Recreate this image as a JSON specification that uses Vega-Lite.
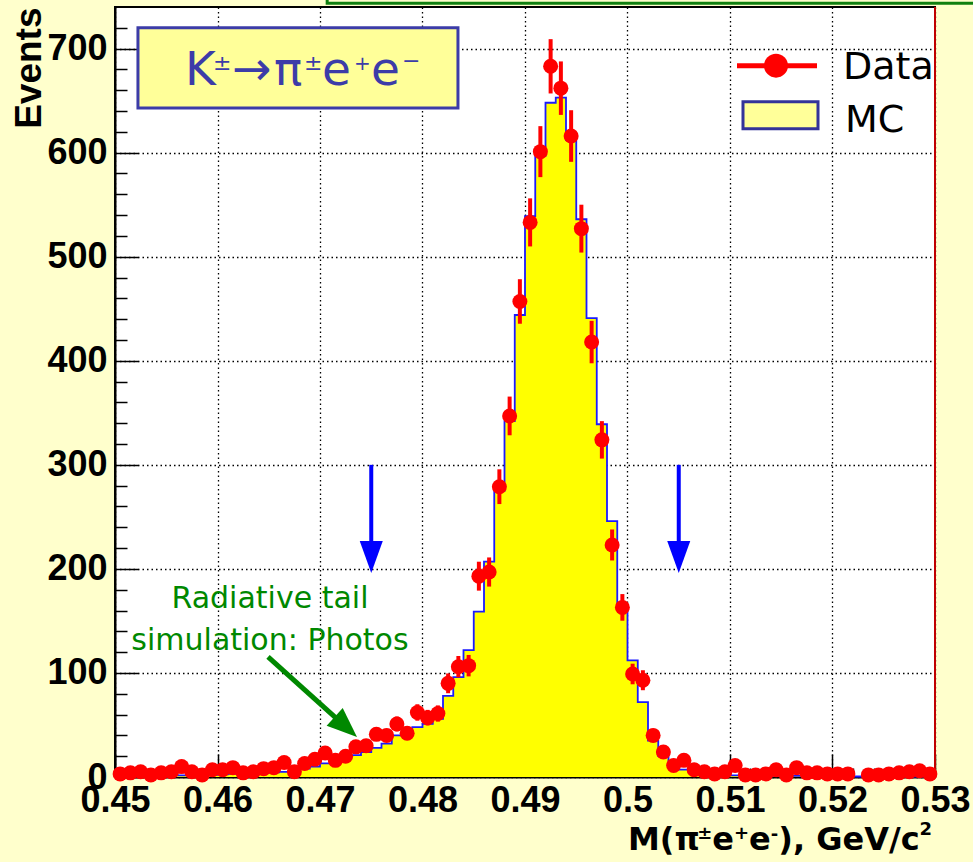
{
  "$schema": "https://vega.github.io/schema/vega-lite/v6.json",
  "width": 820,
  "height": 770,
  "autosize": {"type": "none"},
  "padding": {"left": 115, "top": 7, "right": 38, "bottom": 85},
  "background": "#ffffcc",
  "config": {
    "view": {"fill": "white", "stroke": "black", "strokeWidth": 2},
    "axis": {
      "domainColor": "black", "domainWidth": 2,
      "tickColor": "black", "tickWidth": 1.5,
      "labelFont": "Liberation Sans", "labelFontWeight": "bold", "labelFontSize": 36, "labelColor": "black",
      "gridColor": "black", "gridDash": [1.5, 3], "gridWidth": 1.3,
      "labelOverlap": false, "labelFlush": false
    }
  },
  "datasets": {
    "pts": [
      {"m":0.4505,"n":3,"err":1.7},{"m":0.4515,"n":4,"err":2},{"m":0.4525,"n":5,"err":2.2},{"m":0.4535,"n":2,"err":1.4},{"m":0.4545,"n":4,"err":2},{"m":0.4555,"n":5,"err":2.2},{"m":0.4565,"n":10,"err":3.2},{"m":0.4575,"n":5,"err":2.2},{"m":0.4585,"n":2,"err":1.4},{"m":0.4595,"n":7,"err":2.6},{"m":0.4605,"n":7,"err":2.6},{"m":0.4615,"n":9,"err":3},{"m":0.4625,"n":4,"err":2},{"m":0.4635,"n":5,"err":2.2},{"m":0.4645,"n":8,"err":2.8},{"m":0.4655,"n":9,"err":3},{"m":0.4665,"n":14,"err":3.7},{"m":0.4675,"n":5,"err":2.2},{"m":0.4685,"n":13,"err":3.6},{"m":0.4695,"n":17,"err":4.1},{"m":0.4705,"n":23,"err":4.8},{"m":0.4715,"n":16,"err":4},{"m":0.4725,"n":20,"err":4.5},{"m":0.4735,"n":29,"err":5.4},{"m":0.4745,"n":30,"err":5.5},{"m":0.4755,"n":41,"err":6.4},{"m":0.4765,"n":40,"err":6.3},{"m":0.4775,"n":51,"err":7.1},{"m":0.4785,"n":42,"err":6.5},{"m":0.4795,"n":62,"err":7.9},{"m":0.4805,"n":57,"err":7.5},{"m":0.4815,"n":61,"err":7.8},{"m":0.4825,"n":90,"err":9.5},{"m":0.4835,"n":106,"err":10.3},{"m":0.4845,"n":107,"err":10.3},{"m":0.4855,"n":193,"err":13.9},{"m":0.4865,"n":197,"err":14},{"m":0.4875,"n":279,"err":16.7},{"m":0.4885,"n":347,"err":18.6},{"m":0.4895,"n":457,"err":21.4},{"m":0.4905,"n":533,"err":23.1},{"m":0.4915,"n":601,"err":24.5},{"m":0.4925,"n":683,"err":26.1},{"m":0.4935,"n":662,"err":25.7},{"m":0.4945,"n":616,"err":24.8},{"m":0.4955,"n":527,"err":23},{"m":0.4965,"n":418,"err":20.4},{"m":0.4975,"n":324,"err":18},{"m":0.4985,"n":223,"err":14.9},{"m":0.4995,"n":163,"err":12.8},{"m":0.5005,"n":99,"err":9.9},{"m":0.5015,"n":93,"err":9.6},{"m":0.5025,"n":40,"err":6.3},{"m":0.5035,"n":24,"err":4.9},{"m":0.5045,"n":11,"err":3.3},{"m":0.5055,"n":16,"err":4},{"m":0.5065,"n":7,"err":2.6},{"m":0.5075,"n":5,"err":2.2},{"m":0.5085,"n":3,"err":1.7},{"m":0.5095,"n":5,"err":2.2},{"m":0.5105,"n":11,"err":3.3},{"m":0.5115,"n":2,"err":1.4},{"m":0.5125,"n":2,"err":1.4},{"m":0.5135,"n":3,"err":1.7},{"m":0.5145,"n":7,"err":2.6},{"m":0.5155,"n":2,"err":1.4},{"m":0.5165,"n":9,"err":3},{"m":0.5175,"n":4,"err":2},{"m":0.5185,"n":4,"err":2},{"m":0.5195,"n":3,"err":1.7},{"m":0.5205,"n":3,"err":1.7},{"m":0.5215,"n":3,"err":1.7},{"m":0.5235,"n":2,"err":1.4},{"m":0.5245,"n":2,"err":1.4},{"m":0.5255,"n":3,"err":1.7},{"m":0.5265,"n":4,"err":2},{"m":0.5275,"n":5,"err":2.2},{"m":0.5285,"n":6,"err":2.4},{"m":0.5295,"n":3,"err":1.7}
    ],
    "mc": [
      {"m":0.450,"mc":1},{"m":0.451,"mc":1},{"m":0.452,"mc":1},{"m":0.453,"mc":1},{"m":0.454,"mc":1},{"m":0.455,"mc":1.5},{"m":0.456,"mc":1.5},{"m":0.457,"mc":2},{"m":0.458,"mc":2},{"m":0.459,"mc":2},{"m":0.460,"mc":2.5},{"m":0.461,"mc":3},{"m":0.462,"mc":3},{"m":0.463,"mc":3.5},{"m":0.464,"mc":4},{"m":0.465,"mc":4.5},{"m":0.466,"mc":5},{"m":0.467,"mc":6},{"m":0.468,"mc":8},{"m":0.469,"mc":10},{"m":0.470,"mc":13},{"m":0.471,"mc":16},{"m":0.472,"mc":18},{"m":0.473,"mc":21},{"m":0.474,"mc":24},{"m":0.475,"mc":28},{"m":0.476,"mc":32},{"m":0.477,"mc":40},{"m":0.478,"mc":46},{"m":0.479,"mc":48},{"m":0.480,"mc":51},{"m":0.481,"mc":56},{"m":0.482,"mc":78},{"m":0.483,"mc":96},{"m":0.484,"mc":122},{"m":0.485,"mc":159},{"m":0.486,"mc":207},{"m":0.487,"mc":275},{"m":0.488,"mc":342},{"m":0.489,"mc":444},{"m":0.490,"mc":539},{"m":0.491,"mc":597},{"m":0.492,"mc":648},{"m":0.493,"mc":653},{"m":0.494,"mc":612},{"m":0.495,"mc":536},{"m":0.496,"mc":441},{"m":0.497,"mc":339},{"m":0.498,"mc":246},{"m":0.499,"mc":165},{"m":0.500,"mc":112},{"m":0.501,"mc":72},{"m":0.502,"mc":35},{"m":0.503,"mc":20},{"m":0.504,"mc":12},{"m":0.505,"mc":7},{"m":0.506,"mc":4},{"m":0.507,"mc":3},{"m":0.508,"mc":2},{"m":0.509,"mc":2},{"m":0.510,"mc":1.5},{"m":0.511,"mc":1.5},{"m":0.512,"mc":1},{"m":0.513,"mc":1},{"m":0.514,"mc":1},{"m":0.515,"mc":1},{"m":0.516,"mc":1},{"m":0.517,"mc":1},{"m":0.518,"mc":1},{"m":0.519,"mc":1},{"m":0.520,"mc":1},{"m":0.521,"mc":1},{"m":0.522,"mc":0.5},{"m":0.523,"mc":0.5},{"m":0.524,"mc":0.5},{"m":0.525,"mc":0.5},{"m":0.526,"mc":0.5},{"m":0.527,"mc":0.5},{"m":0.528,"mc":0.5},{"m":0.529,"mc":0.5},{"m":0.530,"mc":0.5}
    ]
  },
  "resolve": {"axis": {"x": "independent", "y": "independent"}},
  "layer": [
    {
      "layer": [
        {
          "data": {"name": "mc"},
          "mark": {"type": "area", "interpolate": "step-after", "color": "#ffff00"},
          "encoding": {
            "x": {"field": "m", "type": "quantitative", "title": null,
              "scale": {"domain": [0.45, 0.53], "nice": false, "zero": false},
              "axis": {
                "orient": "bottom",
                "values": [0.45,0.46,0.47,0.48,0.49,0.5,0.51,0.52,0.53],
                "format": "~g",
                "tickSize": -23,
                "grid": true,
                "labelPadding": 29,
                "labelOverlap": false
              }
            },
            "y": {"field": "mc", "type": "quantitative", "title": "Events",
              "scale": {"domain": [0, 740], "nice": false},
              "axis": {
                "orient": "left",
                "values": [0,100,200,300,400,500,600,700],
                "tickSize": -23,
                "grid": true,
                "labelPadding": 31,
                "labelOverlap": false,
                "titleFont": "Liberation Sans", "titleFontWeight": "bold", "titleFontSize": 37, "titleColor": "black",
                "titleAnchor": "end", "titlePadding": -2
              }
            }
          }
        },
        {
          "data": {"name": "mc"},
          "mark": {"type": "line", "interpolate": "step-after", "color": "#1a1aff", "strokeWidth": 1.8},
          "encoding": {
            "x": {"field": "m", "type": "quantitative", "title": null},
            "y": {"field": "mc", "type": "quantitative", "title": "Events"}
          }
        },
        {
          "data": {"name": "pts"},
          "mark": {"type": "errorbar", "color": "#ff0000", "thickness": 4},
          "encoding": {
            "x": {"field": "m", "type": "quantitative", "title": null},
            "y": {"field": "n", "type": "quantitative", "title": "Events"},
            "yError": {"field": "err"}
          }
        },
        {
          "data": {"name": "pts"},
          "mark": {"type": "point", "shape": "circle", "filled": true, "color": "#ff0000", "opacity": 1, "size": 225},
          "encoding": {
            "x": {"field": "m", "type": "quantitative", "title": null},
            "y": {"field": "n", "type": "quantitative", "title": "Events"}
          }
        },
        {
          "data": {"values": [{}]},
          "mark": {"type": "rule", "color": "#ff0000", "strokeWidth": 1.5},
          "encoding": {"x": {"datum": 0.53, "type": "quantitative"}, "y": {"datum": 0, "type": "quantitative"}, "y2": {"datum": 740}}
        },
        {
          "data": {"values": [{}]},
          "mark": {"type": "rect", "fill": "#ffffcc", "stroke": "#108010", "strokeWidth": 3, "clip": false},
          "encoding": {"x": {"datum": 0.4707, "type": "quantitative"}, "x2": {"datum": 0.5345}, "y": {"datum": 743.5, "type": "quantitative"}, "y2": {"datum": 800}}
        },
        {
          "data": {"values": [{"a": 0.475}, {"a": 0.505}]},
          "mark": {"type": "rule", "color": "#0000ff", "strokeWidth": 4},
          "encoding": {"x": {"field": "a", "type": "quantitative", "title": null}, "y": {"datum": 300, "type": "quantitative"}, "y2": {"datum": 215}}
        },
        {
          "data": {"values": [{"a": 0.475}, {"a": 0.505}]},
          "mark": {"type": "point", "shape": "M -0.72 -1 L 0.72 -1 L 0 1 Z", "filled": true, "color": "#0000ff", "opacity": 1, "size": 1024},
          "encoding": {"x": {"field": "a", "type": "quantitative", "title": null}, "y": {"datum": 211.4, "type": "quantitative"}}
        },
        {
          "data": {"values": [{}]},
          "mark": {"type": "rule", "color": "#008800", "strokeWidth": 5},
          "encoding": {"x": {"datum": 0.46493, "type": "quantitative"}, "y": {"datum": 115.4, "type": "quantitative"}, "x2": {"datum": 0.47252}, "y2": {"datum": 48.1}}
        },
        {
          "data": {"values": [{}]},
          "mark": {"type": "point", "shape": "M -1 -0.8 L 1 0 L -1 0.8 Z", "angle": 42, "filled": true, "color": "#008800", "opacity": 1, "size": 900},
          "encoding": {"x": {"datum": 0.47252, "type": "quantitative"}, "y": {"datum": 48.1, "type": "quantitative"}}
        },
        {
          "data": {"values": [{}]},
          "mark": {"type": "text", "text": ["Radiative tail", "simulation: Photos"], "font": "DejaVu Sans", "fontSize": 30, "color": "#008800", "align": "center", "baseline": "alphabetic", "lineHeight": 42},
          "encoding": {"x": {"datum": 0.46512, "type": "quantitative"}, "y": {"datum": 162.5, "type": "quantitative"}}
        },
        {
          "data": {"values": [{}]},
          "mark": {"type": "rect", "fill": "#ffff99", "stroke": "#3c3ca8", "strokeWidth": 3},
          "encoding": {"x": {"datum": 0.45224, "type": "quantitative"}, "x2": {"datum": 0.48346}, "y": {"datum": 643, "type": "quantitative"}, "y2": {"datum": 720}}
        },
        {"data": {"values": [{}]}, "mark": {"type": "text", "text": "K", "font": "DejaVu Sans", "fontSize": 47, "color": "#3c3ca8", "align": "left", "baseline": "alphabetic"},
         "encoding": {"x": {"datum": 0.456829, "type": "quantitative"}, "y": {"datum": 665.4, "type": "quantitative"}}},
        {"data": {"values": [{}]}, "mark": {"type": "text", "text": "±", "font": "DejaVu Sans", "fontSize": 22, "color": "#3c3ca8", "align": "left", "baseline": "alphabetic"},
         "encoding": {"x": {"datum": 0.459561, "type": "quantitative"}, "y": {"datum": 679.8, "type": "quantitative"}}},
        {"data": {"values": [{}]}, "mark": {"type": "text", "text": "→", "font": "DejaVu Sans", "fontSize": 47, "color": "#3c3ca8", "align": "left", "baseline": "alphabetic"},
         "encoding": {"x": {"datum": 0.461415, "type": "quantitative"}, "y": {"datum": 665.4, "type": "quantitative"}}},
        {"data": {"values": [{}]}, "mark": {"type": "text", "text": "π", "font": "DejaVu Sans", "fontSize": 47, "color": "#3c3ca8", "align": "left", "baseline": "alphabetic"},
         "encoding": {"x": {"datum": 0.465512, "type": "quantitative"}, "y": {"datum": 665.4, "type": "quantitative"}}},
        {"data": {"values": [{}]}, "mark": {"type": "text", "text": "±", "font": "DejaVu Sans", "fontSize": 22, "color": "#3c3ca8", "align": "left", "baseline": "alphabetic"},
         "encoding": {"x": {"datum": 0.468439, "type": "quantitative"}, "y": {"datum": 679.8, "type": "quantitative"}}},
        {"data": {"values": [{}]}, "mark": {"type": "text", "text": "e", "font": "DejaVu Sans", "fontSize": 47, "color": "#3c3ca8", "align": "left", "baseline": "alphabetic"},
         "encoding": {"x": {"datum": 0.470195, "type": "quantitative"}, "y": {"datum": 665.4, "type": "quantitative"}}},
        {"data": {"values": [{}]}, "mark": {"type": "text", "text": "+", "font": "DejaVu Sans", "fontSize": 20, "color": "#3c3ca8", "align": "left", "baseline": "alphabetic"},
         "encoding": {"x": {"datum": 0.473317, "type": "quantitative"}, "y": {"datum": 679.8, "type": "quantitative"}}},
        {"data": {"values": [{}]}, "mark": {"type": "text", "text": "e", "font": "DejaVu Sans", "fontSize": 47, "color": "#3c3ca8", "align": "left", "baseline": "alphabetic"},
         "encoding": {"x": {"datum": 0.474976, "type": "quantitative"}, "y": {"datum": 665.4, "type": "quantitative"}}},
        {"data": {"values": [{}]}, "mark": {"type": "text", "text": "−", "font": "DejaVu Sans", "fontSize": 22, "color": "#3c3ca8", "align": "left", "baseline": "alphabetic"},
         "encoding": {"x": {"datum": 0.478, "type": "quantitative"}, "y": {"datum": 681, "type": "quantitative"}}},
        {
          "data": {"values": [{}]},
          "mark": {"type": "rule", "color": "#ff0000", "strokeWidth": 5},
          "encoding": {"x": {"datum": 0.510683, "type": "quantitative"}, "x2": {"datum": 0.518488}, "y": {"datum": 683.65, "type": "quantitative"}}
        },
        {
          "data": {"values": [{}]},
          "mark": {"type": "point", "shape": "circle", "filled": true, "color": "#ff0000", "opacity": 1, "size": 576},
          "encoding": {"x": {"datum": 0.514488, "type": "quantitative"}, "y": {"datum": 683.65, "type": "quantitative"}}
        },
        {"data": {"values": [{}]}, "mark": {"type": "text", "text": "Data", "font": "DejaVu Sans", "fontSize": 38, "color": "black", "align": "left", "baseline": "alphabetic"},
         "encoding": {"x": {"datum": 0.521024, "type": "quantitative"}, "y": {"datum": 671.2, "type": "quantitative"}}},
        {
          "data": {"values": [{}]},
          "mark": {"type": "rect", "fill": "#ffff99", "stroke": "#333399", "strokeWidth": 3},
          "encoding": {"x": {"datum": 0.511268, "type": "quantitative"}, "x2": {"datum": 0.518585}, "y": {"datum": 623.1, "type": "quantitative"}, "y2": {"datum": 649.0}}
        },
        {"data": {"values": [{}]}, "mark": {"type": "text", "text": "MC", "font": "DejaVu Sans", "fontSize": 38, "color": "black", "align": "left", "baseline": "alphabetic"},
         "encoding": {"x": {"datum": 0.52122, "type": "quantitative"}, "y": {"datum": 620.2, "type": "quantitative"}}},
        {"data": {"values": [{}]}, "mark": {"type": "text", "text": "M(π", "font": "DejaVu Sans", "fontWeight": "bold", "fontSize": 32, "color": "black", "align": "left", "baseline": "alphabetic"},
         "encoding": {"x": {"datum": 0.500049, "type": "quantitative"}, "y": {"datum": -70.2, "type": "quantitative"}}},
        {"data": {"values": [{}]}, "mark": {"type": "text", "text": "±", "font": "DejaVu Sans", "fontWeight": "bold", "fontSize": 18, "color": "black", "align": "left", "baseline": "alphabetic"},
         "encoding": {"x": {"datum": 0.5068, "type": "quantitative"}, "y": {"datum": -59.6, "type": "quantitative"}}},
        {"data": {"values": [{}]}, "mark": {"type": "text", "text": "e", "font": "DejaVu Sans", "fontWeight": "bold", "fontSize": 32, "color": "black", "align": "left", "baseline": "alphabetic"},
         "encoding": {"x": {"datum": 0.508273, "type": "quantitative"}, "y": {"datum": -70.2, "type": "quantitative"}}},
        {"data": {"values": [{}]}, "mark": {"type": "text", "text": "+", "font": "DejaVu Sans", "fontWeight": "bold", "fontSize": 18, "color": "black", "align": "left", "baseline": "alphabetic"},
         "encoding": {"x": {"datum": 0.51039, "type": "quantitative"}, "y": {"datum": -59.6, "type": "quantitative"}}},
        {"data": {"values": [{}]}, "mark": {"type": "text", "text": "e", "font": "DejaVu Sans", "fontWeight": "bold", "fontSize": 32, "color": "black", "align": "left", "baseline": "alphabetic"},
         "encoding": {"x": {"datum": 0.511863, "type": "quantitative"}, "y": {"datum": -70.2, "type": "quantitative"}}},
        {"data": {"values": [{}]}, "mark": {"type": "text", "text": "-", "font": "DejaVu Sans", "fontWeight": "bold", "fontSize": 18, "color": "black", "align": "left", "baseline": "alphabetic"},
         "encoding": {"x": {"datum": 0.51398, "type": "quantitative"}, "y": {"datum": -61, "type": "quantitative"}}},
        {"data": {"values": [{}]}, "mark": {"type": "text", "text": "), GeV/c", "font": "DejaVu Sans", "fontWeight": "bold", "fontSize": 32, "color": "black", "align": "left", "baseline": "alphabetic"},
         "encoding": {"x": {"datum": 0.514712, "type": "quantitative"}, "y": {"datum": -70.2, "type": "quantitative"}}},
        {"data": {"values": [{}]}, "mark": {"type": "text", "text": "2", "font": "DejaVu Sans", "fontWeight": "bold", "fontSize": 18, "color": "black", "align": "left", "baseline": "alphabetic"},
         "encoding": {"x": {"datum": 0.528498, "type": "quantitative"}, "y": {"datum": -55.8, "type": "quantitative"}}}
      ]
    },
    {
      "data": {"name": "mc"},
      "mark": {"type": "point", "opacity": 0},
      "encoding": {
        "x": {"field": "m", "type": "quantitative", "title": null,
          "scale": {"domain": [0.45, 0.53], "nice": false, "zero": false},
          "axis": {
            "orient": "bottom", "offset": 0,
            "values": [0.452,0.454,0.456,0.458,0.462,0.464,0.466,0.468,0.472,0.474,0.476,0.478,0.482,0.484,0.486,0.488,0.492,0.494,0.496,0.498,0.502,0.504,0.506,0.508,0.512,0.514,0.516,0.518,0.522,0.524,0.526,0.528],
            "tickSize": -9, "labels": false, "domain": false, "grid": false, "title": null
          }
        },
        "y": {"field": "mc", "type": "quantitative", "title": null,
          "scale": {"domain": [0, 740], "nice": false},
          "axis": {
            "orient": "left", "offset": 0,
            "values": [20,40,60,80,120,140,160,180,220,240,260,280,320,340,360,380,420,440,460,480,520,540,560,580,620,640,660,680,720],
            "tickSize": -12, "labels": false, "domain": false, "grid": false, "title": null
          }
        }
      }
    }
  ]
}
